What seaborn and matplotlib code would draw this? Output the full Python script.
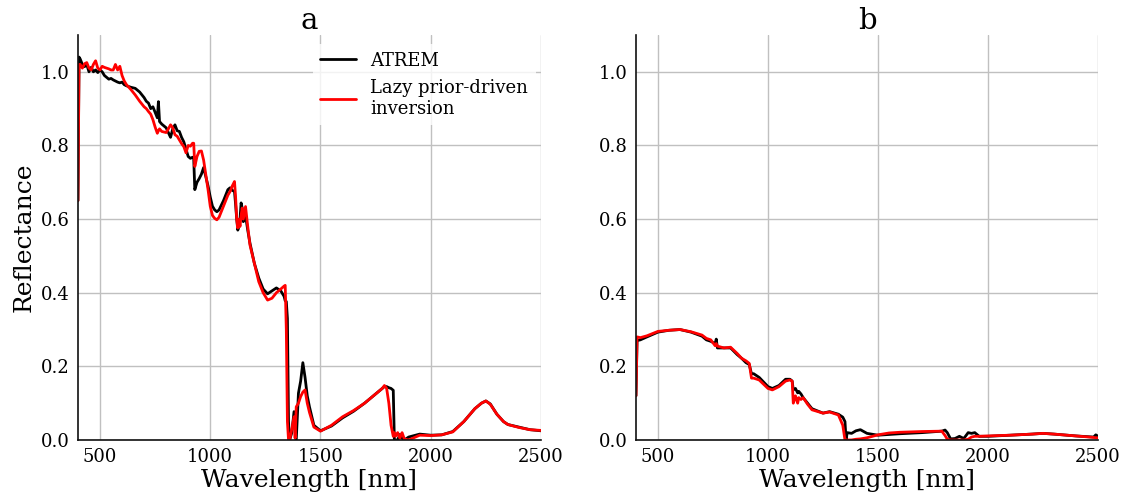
import numpy as np
import pandas as pd
import matplotlib
matplotlib.use("Agg")
import matplotlib.pyplot as plt
import seaborn as sns

# ---------------- data ----------------
wl_a = [400, 405, 410, 420, 430, 440, 450, 460, 470, 480,
        490, 500, 510, 520, 530, 540, 550, 560, 570, 580,
        590, 600, 610, 620, 640, 660, 680, 700, 710, 720,
        730, 740, 750, 760, 765, 770, 780, 800, 810, 820,
        830, 840, 850, 860, 870, 880, 890, 900, 910, 920,
        925, 930, 940, 950, 960, 970, 980, 990, 1000, 1010,
        1020, 1030, 1040, 1060, 1080, 1090, 1100, 1110, 1115, 1120,
        1125, 1130, 1135, 1140, 1145, 1150, 1160, 1170, 1180, 1200,
        1220, 1240, 1260, 1280, 1300, 1320, 1335, 1340, 1345, 1350,
        1355, 1360, 1370, 1380, 1385, 1390, 1400, 1410, 1420, 1430,
        1440, 1450, 1470, 1500, 1550, 1600, 1650, 1700, 1750, 1780,
        1790, 1800, 1810, 1820, 1830, 1835, 1840, 1850, 1860, 1870,
        1880, 1900, 1950, 2000, 2050, 2100, 2150, 2200, 2230, 2250,
        2270, 2300, 2330, 2350, 2400, 2450, 2500]

atrem_a = [0.65, 1.04, 1.035, 1.02, 1.014, 1.02, 1.0, 1.012, 1.0, 1.005,
           0.998, 1.005, 1.0, 0.99, 0.985, 0.98, 0.982, 0.978, 0.975, 0.972,
           0.97, 0.972, 0.965, 0.962, 0.958, 0.955, 0.945, 0.93, 0.92, 0.915,
           0.9, 0.905, 0.89, 0.875, 0.919, 0.865, 0.858, 0.848, 0.835, 0.822,
           0.845, 0.856, 0.84, 0.838, 0.822, 0.81, 0.79, 0.77, 0.765, 0.768,
           0.765, 0.68, 0.7, 0.71, 0.722, 0.74, 0.715, 0.69, 0.66, 0.635,
           0.625, 0.62, 0.625, 0.65, 0.68, 0.685, 0.678, 0.675, 0.64, 0.6,
           0.57, 0.58, 0.6, 0.644, 0.63, 0.593, 0.61, 0.57, 0.535, 0.48,
           0.44, 0.41, 0.397, 0.405, 0.413, 0.405, 0.39, 0.378, 0.376, 0.33,
           0.05, 0.0, 0.02, 0.077, 0.04, 0.0, 0.127, 0.16, 0.21, 0.17,
           0.12, 0.09, 0.04, 0.025, 0.038, 0.06, 0.078, 0.1, 0.125, 0.14,
           0.145, 0.145, 0.142, 0.14, 0.135, 0.0, 0.0, 0.0, 0.015, 0.005,
           0.0, 0.008, 0.016, 0.013, 0.014, 0.023, 0.05, 0.085, 0.1, 0.106,
           0.098, 0.07, 0.05, 0.042, 0.035, 0.028, 0.025]

lazy_a = [0.65, 1.02, 1.02, 1.01, 1.022, 1.025, 1.01, 1.005, 1.02, 1.03,
          1.01, 1.005, 1.015, 1.012, 1.01, 1.008, 1.005, 1.005, 1.02, 1.005,
          1.015, 0.99, 0.975, 0.965, 0.952, 0.937, 0.92, 0.905, 0.9, 0.892,
          0.885, 0.87, 0.85, 0.833, 0.84, 0.845, 0.838, 0.835, 0.845, 0.856,
          0.848, 0.829, 0.825, 0.815, 0.805, 0.797, 0.78, 0.8, 0.798, 0.806,
          0.806, 0.743, 0.77, 0.784, 0.785, 0.76, 0.72, 0.68, 0.635, 0.61,
          0.602, 0.598, 0.605, 0.635, 0.665, 0.675, 0.69, 0.702, 0.66, 0.6,
          0.576, 0.6, 0.58, 0.61, 0.63, 0.6, 0.634, 0.58, 0.53, 0.48,
          0.43, 0.4, 0.38, 0.385, 0.4, 0.41, 0.418, 0.42, 0.3, 0.05,
          0.0, 0.0, 0.03, 0.063, 0.005, 0.09, 0.1, 0.118, 0.13, 0.136,
          0.1, 0.075, 0.035, 0.024, 0.04, 0.063, 0.08, 0.1, 0.125, 0.14,
          0.148, 0.14, 0.1, 0.04, 0.01, 0.02, 0.01, 0.02, 0.005, 0.02,
          0.003, 0.0, 0.013, 0.012, 0.014, 0.022, 0.05, 0.085, 0.1, 0.106,
          0.097, 0.07, 0.05, 0.042, 0.034, 0.028, 0.026]

wl_b = [400, 405, 420, 450, 500, 550, 600, 650, 700, 720,
        740, 760, 765, 770, 800, 830, 860, 880, 900, 915,
        925, 935, 960, 1000, 1020, 1050, 1080, 1100, 1110, 1115,
        1125, 1135, 1140, 1150, 1160, 1180, 1200, 1250, 1280, 1320,
        1340, 1350, 1355, 1360, 1380, 1400, 1420, 1450, 1500, 1550,
        1600, 1700, 1790, 1805, 1815, 1830, 1850, 1870, 1890, 1910,
        1925, 1940, 1960, 2000, 2100, 2200, 2250, 2300, 2400, 2480,
        2490, 2500]

atrem_b = [0.12, 0.27, 0.272, 0.28, 0.293, 0.298, 0.3, 0.293, 0.282, 0.272,
           0.268, 0.262, 0.274, 0.25, 0.25, 0.25, 0.232, 0.222, 0.21, 0.205,
           0.18, 0.18, 0.17, 0.145, 0.14, 0.148, 0.165, 0.165, 0.16, 0.136,
           0.14, 0.128, 0.132, 0.125, 0.115, 0.1, 0.085, 0.073, 0.077, 0.07,
           0.062, 0.05, 0.0, 0.02, 0.018, 0.025, 0.028, 0.018, 0.013, 0.015,
           0.017, 0.02, 0.024, 0.027, 0.02, 0.003, 0.004, 0.01, 0.004, 0.02,
           0.018, 0.02, 0.01, 0.01, 0.013, 0.016, 0.018, 0.016, 0.011, 0.008,
           0.014, 0.01]

lazy_b = [0.12, 0.28, 0.278, 0.283, 0.295, 0.298, 0.3, 0.294, 0.285, 0.276,
          0.272, 0.256, 0.262, 0.255, 0.25, 0.252, 0.235, 0.222, 0.215, 0.208,
          0.168, 0.168, 0.163, 0.14, 0.136, 0.145, 0.16, 0.163, 0.16, 0.1,
          0.12, 0.1, 0.115, 0.11, 0.115, 0.097, 0.082, 0.073, 0.076, 0.068,
          0.04, 0.0, 0.0, 0.0, 0.0, 0.002, 0.003, 0.006, 0.014, 0.019,
          0.021, 0.023, 0.024, 0.012, 0.002, 0.0, 0.0, 0.0, 0.0, 0.002,
          0.008, 0.01, 0.01, 0.011, 0.013, 0.016, 0.018, 0.016, 0.011, 0.007,
          0.006, 0.006]

panel_titles = ["a", "b"]
series_names = ["ATREM", "Lazy prior-driven\ninversion"]
x_ticks = [500, 1000, 1500, 2000, 2500]
y_ticks = [0.0, 0.2, 0.4, 0.6, 0.8, 1.0]

# ---------------- style ----------------
sns.set_style("whitegrid")
plt.rcParams["font.family"] = ["DejaVu Serif"]
plt.rcParams["mathtext.fontset"] = "dejavuserif"
for key in ["text.color", "axes.labelcolor", "xtick.color", "ytick.color"]:
    plt.rcParams[key] = "black"

fig = plt.figure(figsize=(11.28, 4.97), dpi=100)
ax_a = fig.add_axes([0.0691, 0.1147, 0.4105, 0.8149])
ax_b = fig.add_axes([0.5638, 0.1147, 0.4096, 0.8149])

panels = [(ax_a, wl_a, atrem_a, lazy_a), (ax_b, wl_b, atrem_b, lazy_b)]
colors = ["black", "red"]

for i, (ax, wl, atrem, lazy) in enumerate(panels):
    for name, vals, c in zip(series_names, [atrem, lazy], colors):
        df = pd.DataFrame({"wl": wl, "r": vals})
        sns.lineplot(data=df, x="wl", y="r", ax=ax, color=c, linewidth=2,
                     estimator=None, label=name if i == 0 else None,
                     legend=(i == 0))
    ax.set_xlim(400, 2500)
    ax.set_ylim(0, 1.1)
    ax.set_xticks(x_ticks)
    ax.set_yticks(y_ticks)
    ax.set_xticklabels([str(t) for t in x_ticks])
    ax.set_yticklabels([f"{t:.1f}" for t in y_ticks])
    ax.tick_params(axis="both", labelsize=13, length=0, pad=6,
                   labelcolor="black")
    ax.grid(True, color="#c0c0c0", linewidth=1)
    for s in ["top", "right"]:
        ax.spines[s].set_visible(False)
    for s in ["left", "bottom"]:
        ax.spines[s].set_color("#111111")
        ax.spines[s].set_linewidth(1.2)
    ax.set_xlabel("Wavelength [nm]", fontsize=18, labelpad=2, color="black")
    ax.set_ylabel("")
    ax.set_title(panel_titles[i], fontsize=21, pad=4, color="black")

ax_a.set_ylabel("Reflectance", fontsize=18, color="black")
leg = ax_a.legend(loc="upper right", bbox_to_anchor=(1.0, 0.99), fontsize=13,
                  frameon=True, framealpha=0.8, edgecolor="none",
                  handlelength=2.0, borderaxespad=0.3)
for t in leg.get_texts():
    t.set_color("black")

fig.savefig("out.png", dpi=100)
